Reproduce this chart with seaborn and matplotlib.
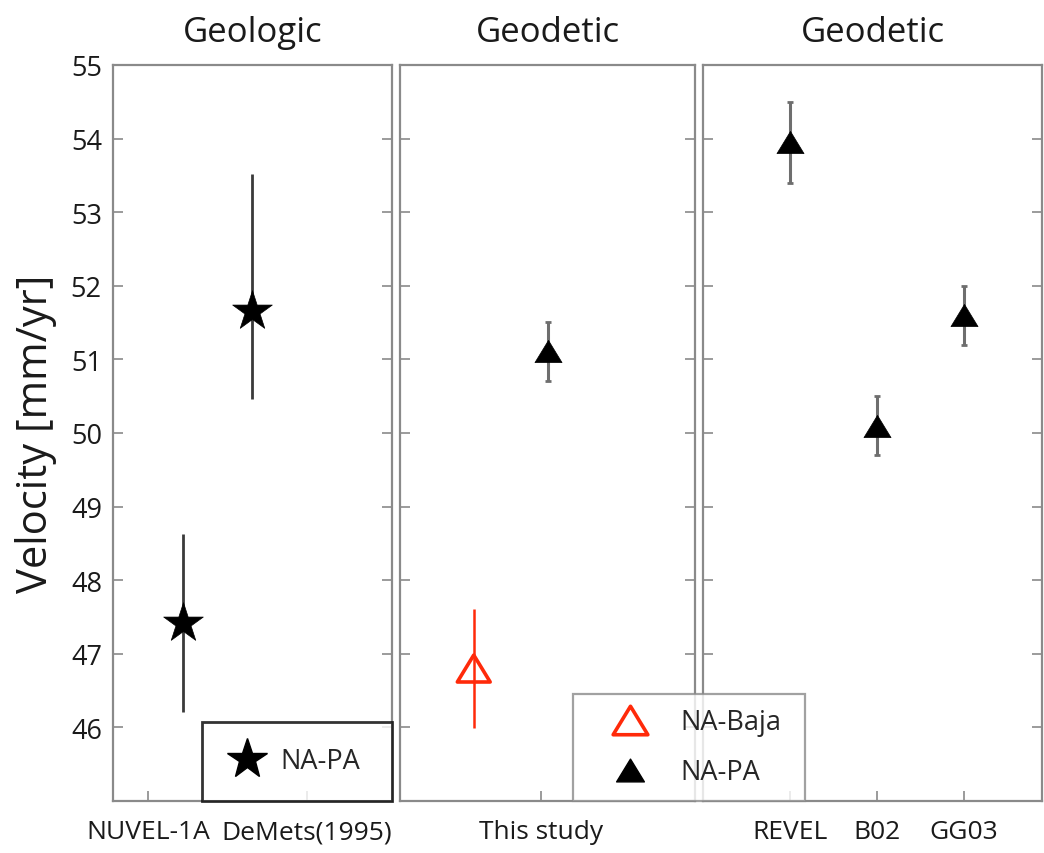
import numpy as np
import pandas as pd
import matplotlib
matplotlib.use("Agg")
import matplotlib.pyplot as plt
from matplotlib.path import Path
from matplotlib.lines import Line2D
import seaborn as sns

# ---------------- data ----------------
panel_titles = ["Geologic", "Geodetic", "Geodetic"]

# Panel 1 (geologic, NA-PA)
geo_labels = ["NUVEL-1A", "DeMets(1995)"]
geo_label_pos = [0.5, 2.78]
geo_x = [1.0, 2.0]
geo_vel = [47.42, 51.66]
geo_err_lo = [1.21, 1.20]
geo_err_hi = [1.21, 1.86]

# Panel 2 (this study)
study_label = ["This study"]
study_label_pos = [1.91]
baja_x = [1.0]
baja_vel = [46.80]
baja_err = [0.81]
study_napa_x = [2.0]
study_napa_vel = [51.11]
study_napa_err = [0.40]

# Panel 3 (other geodetic models, NA-PA)
model_labels = ["REVEL", "B02", "GG03"]
model_x = [1.0, 2.0, 3.0]
model_vel = [53.95, 50.10, 51.60]
model_err = [0.55, 0.40, 0.40]

yticks = [46, 47, 48, 49, 50, 51, 52, 53, 54, 55]

# ---------------- style ----------------
sns.set_theme(style="white")
plt.rcParams["font.family"] = ["Open Sans", "DejaVu Sans"]
FRAME = "#8a8a8a"
TXT = "#1a1a1a"

W, H = 1044, 854
fig = plt.figure(figsize=(W / 100, H / 100), dpi=100)

def fx(px):
    return px / W

def fy(py):
    return 1 - py / H

top_px, bot_px = 66, 802
boxes = [(113, 392), (400, 695), (703, 1042)]
axes = []
for (l, r) in boxes:
    ax = fig.add_axes([fx(l), fy(bot_px), fx(r - l), (bot_px - top_px) / H])
    axes.append(ax)

xlims = [(0, 4), (0, 4), (0, 3.9)]
for i, ax in enumerate(axes):
    ax.set_ylim(45.0, 55.0)
    ax.set_xlim(*xlims[i])
    for sp in ax.spines.values():
        sp.set_color(FRAME)
        sp.set_linewidth(1.6)
        sp.set_visible(True)
    ax.set_yticks(yticks)
    ax.tick_params(axis="y", direction="in", left=True, right=True, length=7,
                   width=1.2, color=FRAME, labelsize=19.5, pad=8, labelcolor=TXT)
    ax.tick_params(axis="x", direction="in", bottom=True, top=False, length=7,
                   width=1.2, color=FRAME, labelsize=19, pad=13, labelcolor=TXT)
    if i > 0:
        ax.set_yticklabels([])
    ax.set_title(panel_titles[i], fontsize=25, pad=17, color=TXT)
    ax.set_facecolor("white")

# triangle marker (MATLAB-like, slightly flattened)
tri = Path([(0, 0.82), (-1, -0.82), (1, -0.82), (0, 0.82)],
           [Path.MOVETO, Path.LINETO, Path.LINETO, Path.CLOSEPOLY])

# ---- Panel 1 ----
ax = axes[0]
ax.errorbar(geo_x, geo_vel, yerr=[geo_err_lo, geo_err_hi], fmt="none",
            ecolor="#3a3a3a", elinewidth=2.0, capsize=0, zorder=2)
df1 = pd.DataFrame({"x": geo_x, "v": geo_vel})
sns.scatterplot(data=df1, x="x", y="v", ax=ax, marker="*", s=900,
                color="black", edgecolor="black", linewidth=0.5, zorder=3, legend=False)
ax.set_xticks(geo_label_pos)
ax.set_xticklabels(geo_labels)
ax.set_xlabel("")
ax.set_ylabel("Velocity [mm/yr]", fontsize=30, labelpad=10, color=TXT)

leg1 = ax.legend(handles=[Line2D([], [], marker="*", ls="none", color="black",
                                 markersize=30)],
                 labels=["NA-PA"], loc="lower left",
                 bbox_to_anchor=(0.319, 0.0, 0.681, 0.111), mode="expand",
                 borderaxespad=0, fontsize=19.5, frameon=True, fancybox=False,
                 borderpad=0.95, handletextpad=0.55, handlelength=1.4,
                 edgecolor="black")
leg1.get_frame().set_linewidth(2.0)

# ---- Panel 2 ----
ax = axes[1]
ax.errorbar(baja_x, baja_vel, yerr=baja_err, fmt="none", ecolor="#ff2a0a",
            elinewidth=1.8, capsize=0, zorder=2)
ax.errorbar(study_napa_x, study_napa_vel, yerr=study_napa_err, fmt="none",
            ecolor="#6e6e6e", elinewidth=2.2, capsize=2, capthick=2, zorder=2)
dfb = pd.DataFrame({"x": baja_x, "v": baja_vel})
sns.scatterplot(data=dfb, x="x", y="v", ax=ax, marker=tri, s=560,
                facecolor="none", edgecolor="#ff2a0a", linewidth=2.6, zorder=3, legend=False)
dfn = pd.DataFrame({"x": study_napa_x, "v": study_napa_vel})
sns.scatterplot(data=dfn, x="x", y="v", ax=ax, marker=tri, s=380,
                color="black", edgecolor="black", linewidth=0.5, zorder=3, legend=False)
ax.set_xticks(study_label_pos)
ax.set_xticklabels(study_label)
ax.set_xlabel("")
ax.set_ylabel("")

# ---- Panel 3 ----
ax = axes[2]
ax.errorbar(model_x, model_vel, yerr=model_err, fmt="none", ecolor="#6e6e6e",
            elinewidth=2.2, capsize=2, capthick=2, zorder=2)
df3 = pd.DataFrame({"x": model_x, "v": model_vel})
sns.scatterplot(data=df3, x="x", y="v", ax=ax, marker=tri, s=380,
                color="black", edgecolor="black", linewidth=0.5, zorder=3, legend=False)
ax.set_xticks(model_x)
ax.set_xticklabels(model_labels)
ax.set_xlabel("")
ax.set_ylabel("")

# ---- Figure legend spanning panels 2/3 ----
h_baja = Line2D([], [], marker=tri, ls="none", markerfacecolor="none",
                markeredgecolor="#ff2a0a", markeredgewidth=2.6, markersize=25)
h_napa = Line2D([], [], marker=tri, ls="none", color="black", markersize=20)
leg2 = fig.legend(handles=[h_baja, h_napa], labels=["NA-Baja", "NA-PA"],
                  loc="lower left",
                  bbox_to_anchor=(fx(573), fy(802), fx(805 - 573), (802 - 695) / H),
                  mode="expand", borderaxespad=0, fontsize=19.5, frameon=True,
                  fancybox=False, edgecolor=FRAME, borderpad=0.55,
                  labelspacing=0.8, handletextpad=0.3, handlelength=3.1)
leg2.get_frame().set_linewidth(1.6)
leg2.set_zorder(10)

fig.savefig("out.png", dpi=100, facecolor="white")
